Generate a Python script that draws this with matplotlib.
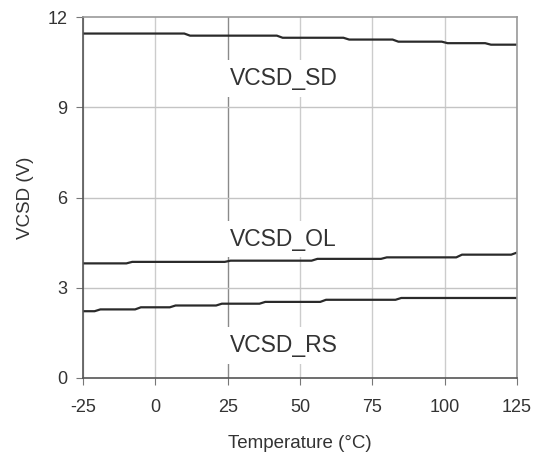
import matplotlib
matplotlib.use('Agg')
from matplotlib import pyplot as plt

plt.rcParams['font.family'] = ['Liberation Sans', 'DejaVu Sans']
plt.rcParams['axes.unicode_minus'] = False

# step-like curves (temperature in C, voltage in V)
t_sd = [-25, 10, 12, 42, 44, 65, 67, 82, 84, 99, 101, 114, 116, 125]
v_sd = [11.45, 11.45, 11.38, 11.38, 11.31, 11.31, 11.25, 11.25, 11.18, 11.18, 11.13, 11.13, 11.08, 11.08]

t_ol = [-25, -10, -8, 24, 26, 54, 56, 78, 80, 104, 106, 123, 125]
v_ol = [3.81, 3.81, 3.86, 3.86, 3.90, 3.90, 3.96, 3.96, 4.01, 4.01, 4.10, 4.10, 4.17]

t_rs = [-25, -21, -19, -7, -5, 5, 7, 21, 23, 36, 38, 57, 59, 83, 85, 125]
v_rs = [2.22, 2.22, 2.28, 2.28, 2.35, 2.35, 2.41, 2.41, 2.47, 2.47, 2.53, 2.53, 2.60, 2.60, 2.66, 2.66]

xticks = [-25, 0, 25, 50, 75, 100, 125]
yticks = [0, 3, 6, 9, 12]

labels = ['VCSD_SD', 'VCSD_OL', 'VCSD_RS']
label_pos = [(44.3, 10.03), (44.3, 4.7), (44.3, 1.17)]

fig = plt.figure(figsize=(5.37, 4.57), dpi=100)
ax = fig.add_axes([83/537, 1-378/457, (517-83)/537, (378-17)/457])

txtc = '#333333'
for x in xticks:
  c = '#8a8a8a' if x == 25 else '#cccccc'
  ax.axvline(x, color=c, lw=1.0, zorder=0)
for y in yticks[1:-1]:
  ax.axhline(y, color='#c4c4c4', lw=1.0, zorder=0)

ax.plot(t_sd, v_sd, color='#2a2a2a', lw=1.6, zorder=2)
ax.plot(t_ol, v_ol, color='#2a2a2a', lw=1.6, zorder=2)
ax.plot(t_rs, v_rs, color='#2a2a2a', lw=1.6, zorder=2)

for s, (x, y) in zip(labels, label_pos):
  ax.text(x, y, s, ha='center', va='center_baseline', fontsize=16.5, color=txtc, zorder=3,
          bbox=dict(facecolor='white', edgecolor='none', pad=5))

ax.set_xlim(-25, 125)
ax.set_ylim(0, 12)
ax.set_xticks(xticks)
ax.set_yticks(yticks)
ax.tick_params(direction='out', length=5, color='#777777', labelcolor=txtc, labelsize=13)
ax.tick_params(axis='x', pad=10)
ax.tick_params(axis='y', pad=6)
for sp in ['left', 'bottom']:
  ax.spines[sp].set_color('#555555')
  ax.spines[sp].set_linewidth(1.2)
for sp in ['top', 'right']:
  ax.spines[sp].set_color('#999999')
  ax.spines[sp].set_linewidth(1.2)

ax.set_xlabel('Temperature (°C)', fontsize=13.5, color=txtc, labelpad=14)
ax.set_ylabel('VCSD (V)', fontsize=13.5, color=txtc, labelpad=10)

fig.savefig('out.png', dpi=100)
